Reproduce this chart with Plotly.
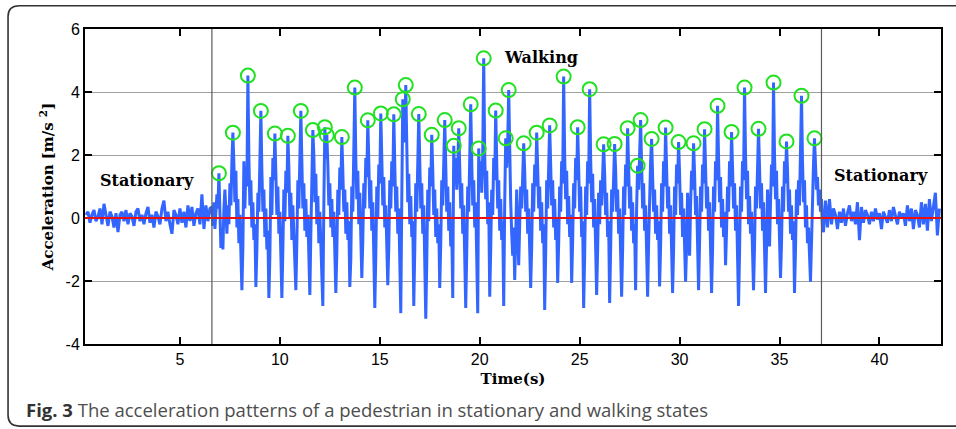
import numpy as np
import plotly.graph_objects as go

# ---------------- data ----------------
# stationary segment before walking, sampled every 0.1 s from t=0.3 s
stat1_start, stat1_dt = 0.3, 0.1
stat1_acc = [0.1, 0.2, -0.15, 0.1, 0.25, -0.1, 0.05, 0.3, -0.2, 0.45,
             0.1, -0.25, 0.2, 0.05, -0.3, 0.15, -0.45, 0.1, 0.2, -0.1,
             0.25, -0.2, 0.15, 0.05, -0.25, 0.2, 0.3, -0.1, 0.1, -0.2,
             0.15, 0.35, -0.15, 0.1, -0.3, 0.2, 0.05, -0.2, 0.3, 0.55,
             -0.1, 0.2, -0.2, -0.5, 0.25, 0.1, -0.2, 0.3, -0.15, 0.2,
             -0.3, 0.4, -0.1, 0.35, -0.25, 0.15, 0.3, -0.2, 0.75, -0.35,
             0.4, -0.1, 0.3]

# walking segment, sampled every 0.05 s from t=6.6 s (one list per step)
walk_start, walk_dt = 6.6, 0.05
walk_steps = [
    [0.35, -0.25, 0.5, -0.35, 0.15, 0.75, 0.3],
    [1.42, 0.2, -0.95, -0.3, -1.0, 0.3, 0.9, 0.2, -0.5, 0.4, -0.2, 1.1, 0.4, 1.8],
    [2.71, 1.7, 0.5, 1.5, -0.3, 0.6, -0.8, 0.1, -1.1, -2.29, -0.9, 1.8, 0.3, 1.6, 1.0],
    [4.52, 1.9, 0.4, 1.2, -0.3, 0.5, -0.7, -0.2, -2.19, -1.0, 0.8, 0.2, 1.7],
    [3.40, 1.5, 0.2, 0.9, -0.6, 0.3, -1.0, -0.4, -2.54, -1.2, 1.3, 0.1, 1.9, 1.2],
    [2.68, 1.4, 0.1, 1.0, -0.5, 0.2, -0.9, -2.54, -1.0, 0.9, -0.1, 1.5, 0.8],
    [2.61, 1.6, 0.0, 0.8, -0.7, 0.4, -0.5, -1.1, -2.29, -0.8, 1.2, 0.3, 1.9],
    [3.40, 1.8, 0.3, 1.1, -0.4, 0.6, -0.6, 0.1, -1.0, -2.44, -0.5, 1.7],
    [2.79, 2.0, 0.5, 1.4, -0.2, 0.7, -0.8, 0.2, -0.9, -1.5, -2.79, 0.4],
    [2.88, 1.9],
    [2.63, 1.7, 0.4, 1.1, -0.3, 0.6, -0.6, 0.2, -1.0, -2.38, -1.1, 0.9, 0.1, 1.6, 0.9],
    [2.57, 1.5, 0.2, 0.9, -0.5, 0.5, -0.7, -0.1, -2.19, -1.3, 1.0, 0.2, 1.8],
    [4.14, 1.9, 0.6, 1.5, -0.2, 0.8, -0.5, -1.9, -0.7, 1.1, 0.3, 1.9, 1.3],
    [3.10, 1.8, 0.3, 1.2, -0.4, 0.5, -0.9, -2.86, -1.2, 1.0, 0.0, 1.7, 1.1],
    [3.32, 1.9, 0.4, 1.3, -0.3, 0.4, -0.8, -2.13, -0.9, 1.2, 0.3, 1.8, 1.0],
    [3.29, 1.7, 0.2, 1.0, -0.5, 0.3, -1.1, -3.02, 0.6],
    [3.77, 2.4, 2.8],
    [4.22, 2.0, 0.5, 1.4, -0.2, 0.7, -0.6, -0.1, -2.79, -1.0, 1.1, 0.2, 1.8],
    [3.30, 1.8, 0.3, 1.1, -0.5, 0.4, -1.2, -3.2, -1.4, 0.9, -0.1, 1.6, 1.0],
    [2.64, 1.5, 0.1, 0.9, -0.6, 0.3, -0.8, -0.2, -2.22, -0.8, 1.2, 0.4, 1.9],
    [3.11, 1.7, 0.2, 1.0, -0.4, 0.5, -0.9, -0.3, -2.54],
    [2.29, 1.2, 1.9, 0.9, 1.6],
    [2.85, 1.6, 0.3, 1.1, -0.5, 0.4, -1.0, -2.86, -1.1, 1.0, 0.2, 1.8],
    [3.61, 1.8, 0.4, 1.2, -0.3, 0.5, -1.2, -3.02],
    [2.21, 1.0, 1.8, 0.8, 2.0],
    [5.07, 2.0, 0.6, 1.5, -0.2, 0.5, -2.5, -1.0, 0.9, 0.1, 1.9, 1.2],
    [3.41, 1.8, 0.3, 1.2, -0.4, 0.6, -0.7, -0.1, -2.79, 0.5],
    [2.53, 1.6, 2.4],
    [4.06, 1.9, 0.5, -0.5, -1.2, -0.3, -1.97, -0.6, 0.9, -0.4, -1.5, -0.2, 1.0, 0.3, 1.8],
    [2.37, 1.5, 0.2, 0.9, -0.5, 0.3, -0.9, -2.22, -0.9, 1.1, 0.2, 1.7, 1.0],
    [2.71, 1.6, 0.3, 1.0, -0.4, 0.5, -0.8, -0.2, -2.92, -1.1, 1.2, 0.3, 1.9],
    [2.94, 1.7, 0.4, 1.2, -0.3, 0.6, -0.7, 0.0, -2.06, -0.8, 1.0, 0.2, 1.8, 1.1],
    [4.49, 2.0, 0.6, 1.5, -0.2, 0.7, -0.6, 0.1, -2.06, -0.7, 1.1, 0.3, 1.9, 1.2],
    [2.88, 1.6, 0.2, 1.0, -0.6, -0.1, -2.86, -1.2, 1.0, 0.1, 1.8, 1.1],
    [4.09, 1.9, 0.5, 1.4, -0.3, 0.6, -0.8, -2.44, -1.0, 0.8, -0.2, 1.2, 0.4, 1.7],
    [2.34, 1.4, 0.1, 0.8, -0.6, -0.1, -2.70, -1.0, 0.9, 0.2, 1.6],
    [2.35, 1.5, 0.2, 0.9, -0.5, 0.3, -0.9, -2.5, -1.0, 1.0, 0.1, 1.7, 1.0],
    [2.85, 1.6, 0.3, 1.0, -0.4, 0.5, -0.8, -0.2, -2.29, 0.3],
    [1.66, 0.9, 2.2],
    [3.11, 1.7, 0.3, 1.1, -0.4, 0.4, -0.9, -2.5, -0.8, 1.0, 1.8],
    [2.51, 1.5, 0.2, 0.9, -0.5, 0.4, -0.7, -0.1, -2.17, -0.9, 1.1, 0.2, 1.8, 1.0],
    [2.87, 1.6, 0.3, 1.0, -0.5, 0.4, -0.9, -2.38, -1.0, 1.0, 0.1, 1.7, 1.1],
    [2.41, 1.4, 0.1, 0.8, -0.6, 0.3, -0.9, -2.02, -0.9, 0.8, -0.3, -1.2, 0.4, 1.5, 0.9],
    [2.37, 1.4, 0.1, 0.7, -0.7, -2.29, -0.8, 1.0, 0.2, 1.7, 1.1],
    [2.82, 1.6, 0.3, 1.0, -0.4, 0.5, -0.8, -2.38, -1.0, 1.0, 0.2, 1.8, 1.2],
    [3.56, 1.9, 0.5, 1.3, -0.3, 0.6, -0.6, 0.2, -1.5, -0.4, 1.0, 0.2, 1.8, 1.0],
    [2.73, 1.6, 0.3, 1.1, -0.4, 0.4, -0.9, -2.79, -1.1, 1.0, 0.2, 1.8, 1.2],
    [4.14, 2.0, 0.6, 1.5, -0.2, 0.7, -0.5, 0.2, -0.8, -2.29, -0.9, 1.0, 0.3, 1.8],
    [2.83, 1.6, 0.3, 1.1, -0.4, 0.5, -0.8, -2.38, -0.9, 0.9, -0.2, -0.9, 0.5, 1.7, 1.0],
    [4.30, 2.0, 0.6, 1.5, -0.2, 0.6, -0.7, -1.9, -0.8, 1.0, 0.2, 1.8, 1.1],
    [2.43, 1.5, 0.2, 0.9, -0.5, 0.4, -0.7, -0.1, -2.38, -1.0, 0.9, 0.1, 1.2, 0.4, 1.7],
    [3.88, 1.8, 0.5, 1.2, -0.3, 0.4, -0.8, -0.3, -1.5, -2.02, -0.8, 0.9, 1.7],
    [2.53, 1.6, 0.9, 1.3, 0.4, 0.9, 0.2, 0.6, -0.3],
]

# stationary segment after walking, sampled every 0.1 s from t=37.2 s
stat2_start, stat2_dt = 37.2, 0.1
stat2_acc = [-0.45, 0.55, -0.3, 0.6, -0.2, 0.3, 0.1, -0.35, 0.2, -0.15,
             0.3, -0.25, 0.15, 0.4, -0.1, 0.2, -0.2, 0.5, -0.7, 0.35,
             -0.15, 0.25, 0.1, -0.2, 0.2, -0.1, 0.3, -0.05, 0.15, -0.35,
             0.2, 0.05, -0.15, 0.25, -0.1, 0.35, 0.1, -0.2, 0.2, 0.0,
             0.15, -0.25, 0.4, -0.1, 0.3, -0.35, 0.25, 0.1, -0.3, 0.5,
             -0.2, 0.45, -0.4, 0.6, -0.1, 0.35, 0.8, -0.55, 0.3]

# detected step peaks (green circles)
peak_t = [6.95, 7.65, 8.40, 9.05, 9.75, 10.40, 11.05, 11.65, 12.25, 12.35,
          13.10, 13.75, 14.40, 15.05, 15.70, 16.15, 16.30, 16.95, 17.60, 18.25,
          18.70, 18.95, 19.55, 19.95, 20.20, 20.80, 21.30, 21.45, 22.20, 22.85,
          23.50, 24.20, 24.90, 25.50, 26.20, 26.75, 27.40, 27.90, 28.05, 28.60,
          29.30, 29.95, 30.70, 31.25, 31.90, 32.60, 33.25, 33.95, 34.70, 35.35,
          36.10, 36.75]
peak_acc = [1.42, 2.71, 4.52, 3.40, 2.68, 2.61, 3.40, 2.79, 2.88, 2.63,
            2.57, 4.14, 3.10, 3.32, 3.29, 3.77, 4.22, 3.30, 2.64, 3.11,
            2.29, 2.85, 3.61, 2.21, 5.07, 3.41, 2.53, 4.06, 2.37, 2.71,
            2.94, 4.49, 2.88, 4.09, 2.34, 2.35, 2.85, 1.66, 3.11, 2.51,
            2.87, 2.41, 2.37, 2.82, 3.56, 2.73, 4.14, 2.83, 4.30, 2.43,
            3.88, 2.53]

state_bounds = [6.6, 37.1]
x_ticks = [5, 10, 15, 20, 25, 30, 35, 40]
y_ticks = [-4, -2, 0, 2, 4, 6]
x_range = [0.25, 43.08]
y_range = [-4, 6]

# ---------------- build series ----------------
walk_acc = [v for step in walk_steps for v in step]
t1 = stat1_start + stat1_dt * np.arange(len(stat1_acc))
t2 = walk_start + walk_dt * np.arange(len(walk_acc))
t3 = stat2_start + stat2_dt * np.arange(len(stat2_acc))
t_all = np.round(np.concatenate([t1, t2, t3]), 3)
a_all = np.array(stat1_acc + walk_acc + stat2_acc)

W, H = 956, 429
L, R, T, B = 85, 941.5, 29.3, 344.0


def xp(px):
    return (px - L) / (R - L)


def yp(py):
    return (B - py) / (B - T)


fig = go.Figure()
fig.add_trace(go.Scatter(x=t_all, y=a_all, mode="lines",
                         line=dict(color="#3366ff", width=3),
                         hoverinfo="skip", showlegend=False))
fig.add_trace(go.Scatter(x=peak_t, y=peak_acc, mode="markers",
                         marker=dict(symbol="circle-open", size=14, color="#22e022",
                                     line=dict(width=2, color="#22e022")),
                         showlegend=False))

# zero reference line
fig.add_shape(type="line", xref="paper", yref="y", x0=0, x1=1, y0=0, y1=0,
              line=dict(color="#e81010", width=2), layer="above")
for b in state_bounds:
    fig.add_shape(type="line", xref="x", yref="paper", x0=b, x1=b, y0=0, y1=1,
                  line=dict(color="#5a5a5a", width=1.2), layer="above")

# outer rounded frame
r = 11
x0f, x1f, y0f, y1f = 8, 975, 6, 426
path = (f"M {xp(x0f + r)},{yp(y0f)} L {xp(x1f)},{yp(y0f)} L {xp(x1f)},{yp(y1f)} "
        f"L {xp(x0f + r)},{yp(y1f)} Q {xp(x0f)},{yp(y1f)} {xp(x0f)},{yp(y1f - r)} "
        f"L {xp(x0f)},{yp(y0f + r)} Q {xp(x0f)},{yp(y0f)} {xp(x0f + r)},{yp(y0f)}")
fig.add_shape(type="path", xref="paper", yref="paper", path=path,
              line=dict(color="#333333", width=1.6), layer="below")

serif = "DejaVu Serif"
for txt, x, y in [("Stationary", 3.33, 1.2), ("Walking", 23.08, 5.08), ("Stationary", 40.1, 1.35)]:
    fig.add_annotation(x=x, y=y, text=f"<b>{txt}</b>", showarrow=False,
                       font=dict(family=serif, size=16, color="black"))

fig.add_annotation(xref="paper", yref="paper", x=xp(24), y=yp(409), xanchor="left", yanchor="middle",
                   text="<b><span style='color:#333333'>Fig. 3</span></b> The acceleration patterns of a pedestrian in stationary and walking states",
                   showarrow=False, font=dict(family="Open Sans", size=18.5, color="#4d4d4d"))

axis_common = dict(showline=True, linecolor="black", linewidth=2, mirror="ticks",
                   ticks="inside", ticklen=7, tickwidth=1.5, tickcolor="black",
                   tickfont=dict(family="Liberation Sans", size=16, color="black"),
                   zeroline=False)
fig.update_xaxes(range=x_range, tickvals=x_ticks, ticktext=[str(v) for v in x_ticks], showgrid=False,
                 title=dict(text="<b>Time(s)</b>", font=dict(family=serif, size=15, color="black"), standoff=6),
                 **axis_common)
fig.update_yaxes(range=y_range, tickvals=y_ticks, ticktext=[str(v) for v in y_ticks],
                 showgrid=True, gridcolor="#a0a0a0", gridwidth=1,
                 title=dict(text="<b>Acceleration [m/s <sup>2</sup>]</b>", font=dict(family=serif, size=15, color="black"), standoff=8),
                 **axis_common)

fig.update_layout(template="none", width=W, height=H,
                  margin=dict(l=L, r=W - R, t=T, b=H - B, pad=0),
                  plot_bgcolor="white", paper_bgcolor="white", showlegend=False)

fig.write_html("out.html")
